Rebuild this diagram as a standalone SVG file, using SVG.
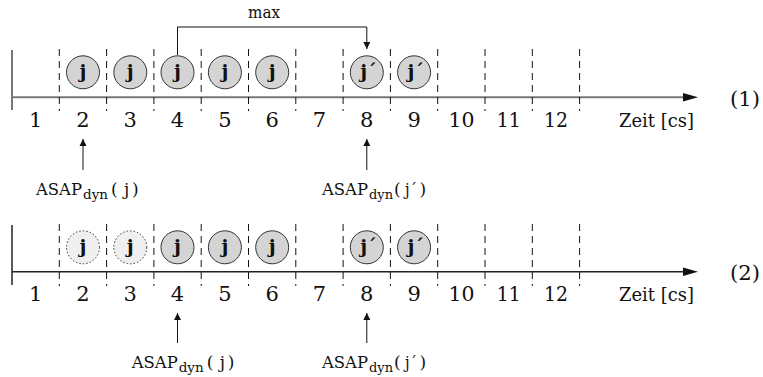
<svg xmlns="http://www.w3.org/2000/svg" width="763" height="377" viewBox="0 0 763 377">
<style>
text{font-family:"DejaVu Serif",serif;fill:#111}
.num{font-size:21px;text-anchor:middle}
.lbl{font-size:19px}
.tag{font-size:21px}
.asap{font-size:16px}
.sub{font-size:13px}
.par{font-size:17px}
.jt{font-size:19px;font-weight:bold;text-anchor:middle}
.node{fill:#d4d4d4;stroke:#333;stroke-width:1}
.ghost{fill:#efefef;stroke:#333;stroke-width:1;stroke-dasharray:1.5 2}
.dash{stroke:#111;stroke-width:1;stroke-dasharray:7 5;fill:none}
.line{stroke:#111;stroke-width:1;fill:none}
</style>
<defs>
<marker id="ah" viewBox="0 0 10 10" refX="10" refY="5" markerWidth="7" markerHeight="8" markerUnits="userSpaceOnUse" orient="auto">
<path d="M0,0 L10,5 L0,10 z" fill="#111"/>
</marker>
</defs>

<g id="axis1">
<line x1="12" y1="50" x2="12" y2="110" stroke="#777" stroke-width="2"/>
<line x1="12" y1="97.3" x2="684" y2="97.3" stroke="#777" stroke-width="2"/>
<path d="M683,93 L698,97.3 L683,101.6 z" fill="#111"/>
</g>
<g id="grid1">
<line class="dash" x1="59.3" y1="49" x2="59.3" y2="111"/>
<line class="dash" x1="106.6" y1="49" x2="106.6" y2="111"/>
<line class="dash" x1="153.9" y1="49" x2="153.9" y2="111"/>
<line class="dash" x1="201.2" y1="49" x2="201.2" y2="111"/>
<line class="dash" x1="248.5" y1="49" x2="248.5" y2="111"/>
<line class="dash" x1="295.8" y1="49" x2="295.8" y2="111"/>
<line class="dash" x1="343.1" y1="49" x2="343.1" y2="111"/>
<line class="dash" x1="390.4" y1="49" x2="390.4" y2="111"/>
<line class="dash" x1="437.7" y1="49" x2="437.7" y2="111"/>
<line class="dash" x1="485" y1="49" x2="485" y2="111"/>
<line class="dash" x1="532.3" y1="49" x2="532.3" y2="111"/>
<line class="dash" x1="579.6" y1="49" x2="579.6" y2="111"/>
</g>
<g id="nums1">
<text class="num" x="35.6" y="126.5">1</text>
<text class="num" x="83" y="126.5">2</text>
<text class="num" x="130.3" y="126.5">3</text>
<text class="num" x="177.5" y="126.5">4</text>
<text class="num" x="224.9" y="126.5">5</text>
<text class="num" x="272.2" y="126.5">6</text>
<text class="num" x="319.5" y="126.5">7</text>
<text class="num" x="366.8" y="126.5">8</text>
<text class="num" x="414.1" y="126.5">9</text>
<text class="num" x="461.4" y="126.5" textLength="26" lengthAdjust="spacingAndGlyphs">10</text>
<text class="num" x="508.7" y="126.5" textLength="24" lengthAdjust="spacingAndGlyphs">11</text>
<text class="num" x="556" y="126.5" textLength="24" lengthAdjust="spacingAndGlyphs">12</text>
<text class="lbl" x="619" y="126.5" textLength="75" lengthAdjust="spacingAndGlyphs">Zeit [cs]</text>
<text class="tag" x="730" y="106" textLength="30" lengthAdjust="spacingAndGlyphs">(1)</text>
</g>
<g id="d1-j2"><circle class="node" cx="83" cy="72.3" r="16.5"/><text class="jt" x="83" y="78">j</text></g>
<g id="d1-j3"><circle class="node" cx="130.3" cy="72.3" r="16.5"/><text class="jt" x="130.3" y="78">j</text></g>
<g id="d1-j4"><circle class="node" cx="177.5" cy="72.3" r="16.5"/><text class="jt" x="177.5" y="78">j</text></g>
<g id="d1-j5"><circle class="node" cx="224.9" cy="72.3" r="16.5"/><text class="jt" x="224.9" y="78">j</text></g>
<g id="d1-j6"><circle class="node" cx="272.2" cy="72.3" r="16.5"/><text class="jt" x="272.2" y="78">j</text></g>
<g id="d1-jp8"><circle class="node" cx="366.8" cy="72.3" r="16.5"/><text class="jt" x="368.5" y="78">j´</text></g>
<g id="d1-jp9"><circle class="node" cx="414.1" cy="72.3" r="16.5"/><text class="jt" x="415.8" y="78">j´</text></g>

<g id="labels1">
<text class="asap" x="248" y="18" textLength="32" lengthAdjust="spacingAndGlyphs">max</text>
<text class="asap" x="36" y="195" textLength="46" lengthAdjust="spacingAndGlyphs">ASAP</text>
<text class="sub" x="83" y="199" textLength="25" lengthAdjust="spacingAndGlyphs">dyn</text>
<text class="par" x="111" y="195">(</text>
<text class="par" x="124" y="195">j</text>
<text class="par" x="132" y="195">)</text>
<text class="asap" x="322" y="195" textLength="46" lengthAdjust="spacingAndGlyphs">ASAP</text>
<text class="sub" x="369" y="199" textLength="24" lengthAdjust="spacingAndGlyphs">dyn</text>
<text class="par" x="394" y="195">(</text>
<text class="par" x="405" y="195" textLength="12" lengthAdjust="spacingAndGlyphs">j´</text>
<text class="par" x="419.5" y="195">)</text>
</g>

<g id="axis2">
<line x1="12" y1="225" x2="12" y2="285" stroke="#222" stroke-width="1.5"/>
<line x1="12" y1="271.7" x2="684" y2="271.7" stroke="#222" stroke-width="1.5"/>
<path d="M683,267.4 L698,271.7 L683,276 z" fill="#111"/>
</g>
<g id="grid2">
<line class="dash" x1="59.3" y1="224" x2="59.3" y2="286"/>
<line class="dash" x1="106.6" y1="224" x2="106.6" y2="286"/>
<line class="dash" x1="153.9" y1="224" x2="153.9" y2="286"/>
<line class="dash" x1="201.2" y1="224" x2="201.2" y2="286"/>
<line class="dash" x1="248.5" y1="224" x2="248.5" y2="286"/>
<line class="dash" x1="295.8" y1="224" x2="295.8" y2="286"/>
<line class="dash" x1="343.1" y1="224" x2="343.1" y2="286"/>
<line class="dash" x1="390.4" y1="224" x2="390.4" y2="286"/>
<line class="dash" x1="437.7" y1="224" x2="437.7" y2="286"/>
<line class="dash" x1="485" y1="224" x2="485" y2="286"/>
<line class="dash" x1="532.3" y1="224" x2="532.3" y2="286"/>
<line class="dash" x1="579.6" y1="224" x2="579.6" y2="286"/>
</g>
<g id="nums2">
<text class="num" x="35.6" y="300.5">1</text>
<text class="num" x="83" y="300.5">2</text>
<text class="num" x="130.3" y="300.5">3</text>
<text class="num" x="177.5" y="300.5">4</text>
<text class="num" x="224.9" y="300.5">5</text>
<text class="num" x="272.2" y="300.5">6</text>
<text class="num" x="319.5" y="300.5">7</text>
<text class="num" x="366.8" y="300.5">8</text>
<text class="num" x="414.1" y="300.5">9</text>
<text class="num" x="461.4" y="300.5" textLength="26" lengthAdjust="spacingAndGlyphs">10</text>
<text class="num" x="508.7" y="300.5" textLength="24" lengthAdjust="spacingAndGlyphs">11</text>
<text class="num" x="556" y="300.5" textLength="24" lengthAdjust="spacingAndGlyphs">12</text>
<text class="lbl" x="619" y="300.5" textLength="75" lengthAdjust="spacingAndGlyphs">Zeit [cs]</text>
<text class="tag" x="730" y="280" textLength="30" lengthAdjust="spacingAndGlyphs">(2)</text>
</g>
<g id="d2-j2"><circle class="ghost" cx="83" cy="247.3" r="16.5"/><text class="jt" x="83" y="253">j</text></g>
<g id="d2-j3"><circle class="ghost" cx="130.3" cy="247.3" r="16.5"/><text class="jt" x="130.3" y="253">j</text></g>
<g id="d2-j4"><circle class="node" cx="177.5" cy="247.3" r="16.5"/><text class="jt" x="177.5" y="253">j</text></g>
<g id="d2-j5"><circle class="node" cx="224.9" cy="247.3" r="16.5"/><text class="jt" x="224.9" y="253">j</text></g>
<g id="d2-j6"><circle class="node" cx="272.2" cy="247.3" r="16.5"/><text class="jt" x="272.2" y="253">j</text></g>
<g id="d2-jp8"><circle class="node" cx="366.8" cy="247.3" r="16.5"/><text class="jt" x="368.5" y="253">j´</text></g>
<g id="d2-jp9"><circle class="node" cx="414.1" cy="247.3" r="16.5"/><text class="jt" x="415.8" y="253">j´</text></g>

<g id="labels2">
<text class="asap" x="131.7" y="368" textLength="46" lengthAdjust="spacingAndGlyphs">ASAP</text>
<text class="sub" x="178.7" y="372" textLength="25" lengthAdjust="spacingAndGlyphs">dyn</text>
<text class="par" x="206.7" y="368">(</text>
<text class="par" x="219.7" y="368">j</text>
<text class="par" x="227.7" y="368">)</text>
<text class="asap" x="322" y="368" textLength="46" lengthAdjust="spacingAndGlyphs">ASAP</text>
<text class="sub" x="369" y="372" textLength="24" lengthAdjust="spacingAndGlyphs">dyn</text>
<text class="par" x="394" y="368">(</text>
<text class="par" x="405" y="368" textLength="12" lengthAdjust="spacingAndGlyphs">j´</text>
<text class="par" x="419.5" y="368">)</text>
</g>

<g id="connectors">
<path class="line" d="M177.5,55 V27 H366.8 V49" marker-end="url(#ah)"/>
<line class="line" x1="83" y1="170" x2="83" y2="139" marker-end="url(#ah)"/>
<line class="line" x1="366.8" y1="170" x2="366.8" y2="139" marker-end="url(#ah)"/>
<line class="line" x1="177.5" y1="343" x2="177.5" y2="313" marker-end="url(#ah)"/>
<line class="line" x1="366.8" y1="343" x2="366.8" y2="313" marker-end="url(#ah)"/>
</g>
</svg>
